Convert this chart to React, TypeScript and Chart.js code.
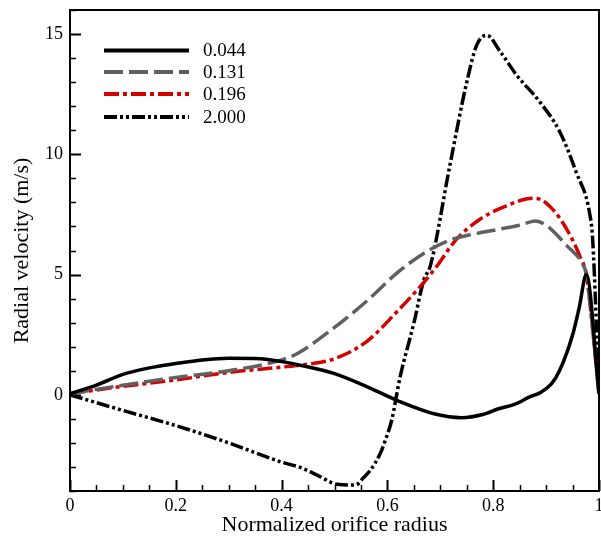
import React, { useEffect, useRef } from "react";
import { Chart, registerables } from "chart.js";

Chart.register(...registerables);

const seriesNames = ["0.044", "0.131", "0.196", "2.000"];

const x044 = [0, 0.05, 0.1, 0.15, 0.2, 0.25, 0.3, 0.36, 0.4, 0.435, 0.5, 0.56, 0.62, 0.69, 0.74, 0.78, 0.81, 0.84, 0.869, 0.888, 0.91, 0.926, 0.951, 0.963, 0.976, 1.0];
const y044 = [0.05, 0.4, 0.85, 1.12, 1.3, 1.45, 1.52, 1.5, 1.38, 1.23, 0.88, 0.35, -0.25, -0.8, -0.95, -0.82, -0.58, -0.4, -0.09, 0.08, 0.45, 1.03, 2.56, 3.67, 5.0, 0.05];

const x131 = [0, 0.1, 0.2, 0.3, 0.4, 0.43, 0.5, 0.56, 0.62, 0.67, 0.72, 0.76, 0.81, 0.85, 0.88, 0.9, 0.94, 0.97, 0.976, 1.0];
const y131 = [0.05, 0.4, 0.72, 1.0, 1.45, 1.72, 2.8, 3.88, 5.1, 5.9, 6.45, 6.67, 6.88, 7.05, 7.23, 7.05, 6.18, 5.4, 5.0, 0.05];

const x196 = [0, 0.1, 0.2, 0.3, 0.4, 0.435, 0.5, 0.56, 0.62, 0.66, 0.69, 0.73, 0.775, 0.825, 0.875, 0.89, 0.913, 0.94, 0.965, 0.976, 1.0];
const y196 = [0.05, 0.35, 0.62, 0.93, 1.15, 1.23, 1.5, 2.2, 3.5, 4.45, 5.25, 6.45, 7.3, 7.86, 8.17, 8.12, 7.7, 6.85, 5.7, 5.0, 0.05];

const x2000 = [0, 0.1, 0.2, 0.3, 0.4, 0.435, 0.47, 0.505, 0.54, 0.555, 0.567, 0.586, 0.598, 0.608, 0.624, 0.65, 0.669, 0.681, 0.718, 0.75, 0.769, 0.788, 0.813, 0.844, 0.888, 0.926, 0.957, 0.982, 0.988, 1.0];
const y2000 = [0, -0.65, -1.28, -2.0, -2.8, -3.02, -3.37, -3.72, -3.75, -3.44, -3.16, -2.46, -1.77, -1.07, 0.74, 2.98, 4.79, 5.35, 9.53, 13.0, 14.55, 14.95, 14.28, 13.3, 12.18, 10.93, 9.25, 7.58, 6.46, 0.05];

const xTickValues = [0, 0.2, 0.4, 0.6, 0.8, 1];
const xTickLabels = ["0", "0.2", "0.4", "0.6", "0.8", "1"];
const yTickValues = [0, 5, 10, 15];
const yTickLabels = ["0", "5", "10", "15"];

const colors = ["#000000", "#606060", "#d40000", "#000000"];
const dashes = [[], [19, 6], [15, 4, 4, 4], [13, 3, 3, 3, 3, 3]];

const FONT = "'Liberation Serif', 'Times New Roman', serif";

function pts(xs: number[], ys: number[]) {
  return xs.map((x, i) => ({ x, y: ys[i] }));
}

const framePlugin = {
  id: "framePlugin",
  afterDraw(chart: any) {
    const { ctx, chartArea } = chart;
    const { left, right, top, bottom } = chartArea;
    const xs = chart.scales.x;
    const ys = chart.scales.y;
    ctx.save();
    ctx.strokeStyle = "#000";
    for (let i = 0; i <= 20; i++) {
      const v = i * 0.05;
      const px = Math.round(xs.getPixelForValue(v)) + 0.5;
      const major = i % 4 === 0;
      ctx.lineWidth = major ? 2 : 1.5;
      ctx.beginPath();
      ctx.moveTo(px, bottom);
      ctx.lineTo(px, bottom - (major ? 11 : 6));
      ctx.stroke();
    }
    for (let v = -4; v <= 16; v++) {
      const py = Math.round(ys.getPixelForValue(v)) + 0.5;
      const major = v % 5 === 0;
      ctx.lineWidth = major ? 2 : 1.5;
      ctx.beginPath();
      ctx.moveTo(left, py);
      ctx.lineTo(left + (major ? 11 : 6), py);
      ctx.stroke();
    }
    ctx.lineWidth = 2;
    ctx.strokeRect(left, top, right - left, bottom - top);
    const rows = [50.5, 72, 94, 117];
    ctx.font = "19px " + FONT;
    ctx.textBaseline = "middle";
    ctx.textAlign = "left";
    for (let i = 0; i < seriesNames.length; i++) {
      ctx.strokeStyle = colors[i];
      ctx.lineWidth = 4;
      ctx.setLineDash(dashes[i]);
      ctx.lineCap = "butt";
      ctx.beginPath();
      ctx.moveTo(104, rows[i]);
      ctx.lineTo(189, rows[i]);
      ctx.stroke();
      ctx.setLineDash([]);
      ctx.fillStyle = "#000";
      ctx.fillText(seriesNames[i], 203, rows[i] + 1);
    }
    ctx.restore();
  },
};

export default function App() {
  const ref = useRef<HTMLCanvasElement | null>(null);
  useEffect(() => {
    document.body.style.margin = "0";
    const canvas = ref.current;
    if (!canvas) return;
    const data = [pts(x044, y044), pts(x131, y131), pts(x196, y196), pts(x2000, y2000)];
    const chart = new Chart(canvas, {
      type: "line",
      data: {
        datasets: seriesNames.map((name, i) => ({
          label: name,
          data: data[i],
          borderColor: colors[i],
          borderWidth: 3.5,
          borderDash: dashes[i],
          pointRadius: 0,
          fill: false,
          cubicInterpolationMode: "monotone" as const,
        })),
      },
      options: {
        animation: false,
        responsive: false,
        layout: { padding: { left: 0, right: 2, top: 10, bottom: 0 } },
        plugins: { legend: { display: false }, tooltip: { enabled: false } },
        scales: {
          x: {
            type: "linear",
            min: 0,
            max: 1,
            afterFit: (s: any) => { s.height = 46; s.paddingLeft = 0; s.paddingRight = 0; },
            afterBuildTicks: (s: any) => { s.ticks = xTickValues.map((v) => ({ value: v })); },
            grid: { display: false, drawTicks: false },
            border: { display: false },
            ticks: {
              padding: 4,
              color: "#000",
              font: { family: FONT, size: 18 },
              maxRotation: 0,
              callback: (v: any) => {
                const idx = xTickValues.findIndex((t) => Math.abs(t - Number(v)) < 1e-9);
                return idx >= 0 ? xTickLabels[idx] : "";
              },
            },
            title: {
              display: true,
              text: "Normalized orifice radius",
              color: "#000",
              font: { family: FONT, size: 22, lineHeight: 1 },
              padding: { top: 0, bottom: 1 },
            },
          },
          y: {
            type: "linear",
            min: -4,
            max: 16,
            afterFit: (s: any) => { s.width = 70; s.paddingTop = 0; s.paddingBottom = 0; },
            afterBuildTicks: (s: any) => { s.ticks = yTickValues.map((v) => ({ value: v })); },
            grid: { display: false, drawTicks: false },
            border: { display: false },
            ticks: {
              padding: 7,
              color: "#000",
              font: { family: FONT, size: 18 },
              callback: (v: any) => {
                const idx = yTickValues.findIndex((t) => Math.abs(t - Number(v)) < 1e-9);
                return idx >= 0 ? yTickLabels[idx] : "";
              },
            },
            title: {
              display: true,
              text: "Radial velocity (m/s)",
              color: "#000",
              font: { family: FONT, size: 22, lineHeight: 1 },
              padding: { top: 11, bottom: 0 },
            },
          },
        },
      },
      plugins: [framePlugin],
    });
    return () => chart.destroy();
  }, []);
  return (
    <canvas ref={ref} width={601} height={537} style={{ display: "block", width: 601, height: 537 }} />
  );
}
